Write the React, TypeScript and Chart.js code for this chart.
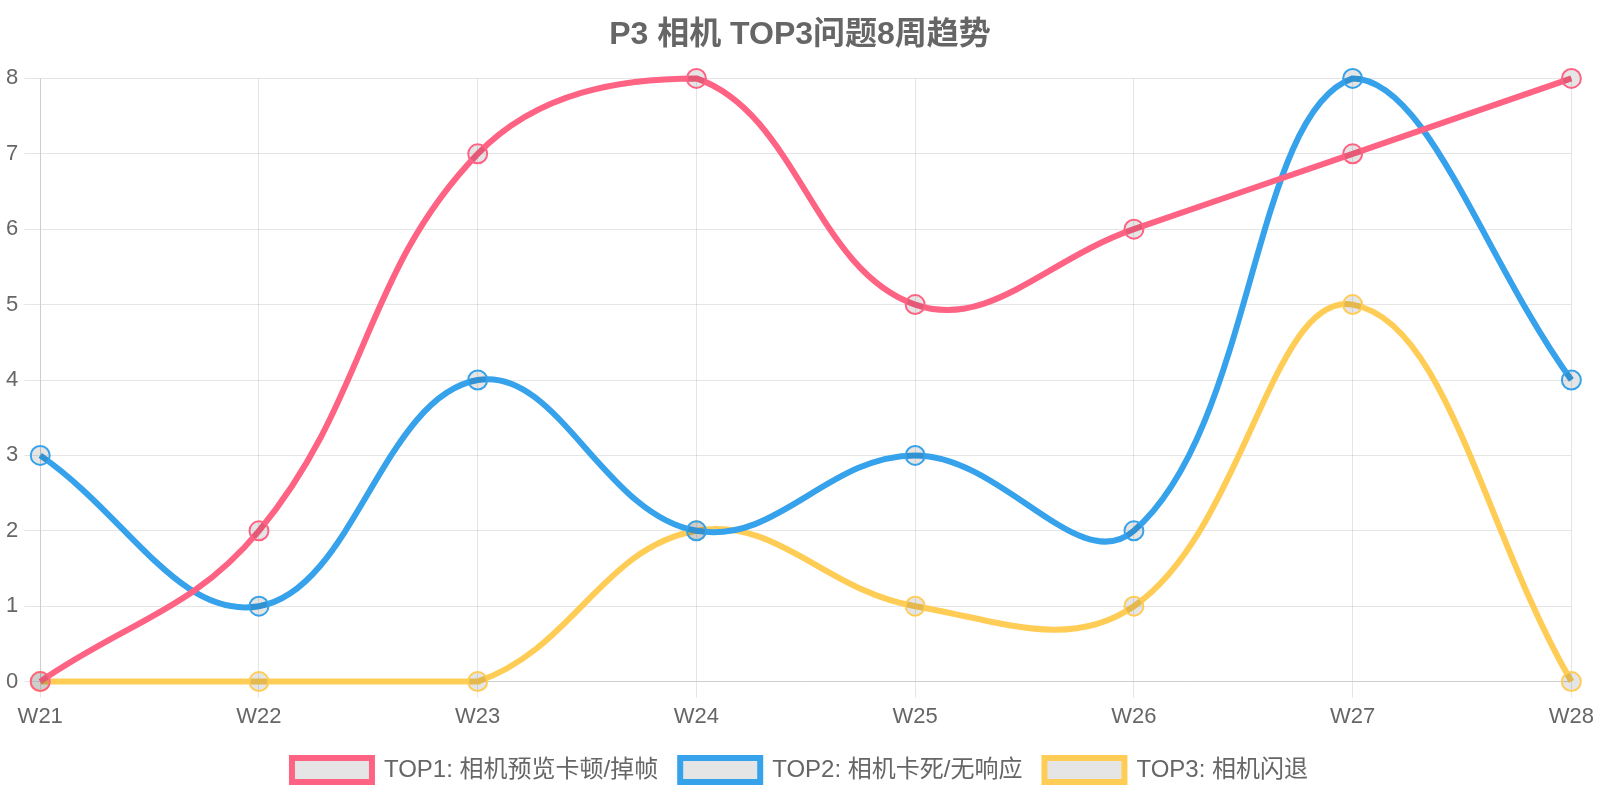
import React, { useEffect, useRef } from "react";
import { Chart, registerables } from "chart.js";

Chart.register(...registerables);

const weeks = ["W21", "W22", "W23", "W24", "W25", "W26", "W27", "W28"];
const top1Label = "TOP1: 相机预览卡顿/掉帧";
const top2Label = "TOP2: 相机卡死/无响应";
const top3Label = "TOP3: 相机闪退";
const top1Values = [0, 2, 7, 8, 5, 6, 7, 8];
const top2Values = [3, 1, 4, 2, 3, 2, 8, 4];
const top3Values = [0, 0, 0, 2, 1, 1, 5, 0];
const titleText = "P3 相机 TOP3问题8周趋势";

const FONT = "'Liberation Sans', Arial, 'Noto Sans CJK SC', sans-serif";

export default function App() {
  const ref = useRef<HTMLCanvasElement | null>(null);

  useEffect(() => {
    if (!ref.current) return;
    const mk = (label: string, data: number[], color: string) => ({
      label,
      data,
      borderColor: color,
      backgroundColor: "rgba(0,0,0,0.1)",
      pointBackgroundColor: "rgba(0,0,0,0.1)",
      pointBorderColor: color,
      borderWidth: 6,
      pointRadius: 9.5,
      pointBorderWidth: 2,
      tension: 0.4,
    });
    const chart = new Chart(ref.current, {
      type: "line",
      data: {
        labels: weeks,
        datasets: [
          mk(top1Label, top1Values, "rgb(255, 99, 132)"),
          mk(top2Label, top2Values, "rgb(54, 162, 235)"),
          mk(top3Label, top3Values, "rgb(255, 205, 86)"),
        ],
      },
      options: {
        animation: false,
        responsive: true,
        maintainAspectRatio: false,
        color: "#666",
        font: { family: FONT, size: 22 },
        layout: { padding: { top: 0, bottom: 8, left: 0, right: 0 } },
        plugins: {
          title: {
            display: true,
            text: titleText,
            color: "#666",
            font: { family: FONT, size: 32, weight: "bold" },
            padding: { top: 16, bottom: 24 },
          },
          legend: {
            position: "bottom",
            labels: {
              color: "#666",
              font: { family: FONT, size: 24 },
              boxWidth: 80,
              boxHeight: 24,
              padding: 22,
            },
          },
          tooltip: { enabled: false },
        },
        scales: {
          x: {
            grid: { color: "rgba(0,0,0,0.1)", tickLength: 16 },
            ticks: { color: "#666", font: { family: FONT, size: 22 }, padding: 6 },
          },
          y: {
            beginAtZero: true,
            grid: { color: "rgba(0,0,0,0.1)", tickLength: 16 },
            ticks: { color: "#666", font: { family: FONT, size: 22 }, padding: 6, stepSize: 1 },
          },
        },
      },
    });
    return () => chart.destroy();
  }, []);

  return (
    <div style={{ position: "absolute", left: 0, top: 0, width: 1600, height: 800 }}>
      <canvas ref={ref} />
    </div>
  );
}
